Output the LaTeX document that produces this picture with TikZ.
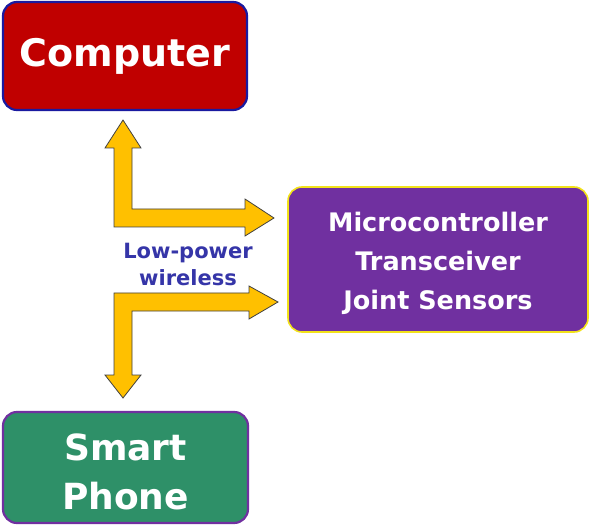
\documentclass[tikz,border=0pt]{standalone}
\usepackage{fontspec}
\setmainfont{DejaVu Sans}
\definecolor{cred}{HTML}{C00000}
\definecolor{cblue}{HTML}{1A1AA0}
\definecolor{cpurple}{HTML}{7030A0}
\definecolor{cyellow}{HTML}{F2E21A}
\definecolor{cgreen}{HTML}{2E9068}
\definecolor{cgold}{HTML}{FFC000}
\definecolor{ctext}{HTML}{3535A8}
\tikzset{
  box/.style={rounded corners=14pt, line width=2.2pt, inner sep=0pt, text=white, font=\bfseries, align=center},
  blockarrow/.style={fill=cgold, draw=black!75, line width=0.8pt, line join=miter},
}
\begin{document}
\begin{tikzpicture}[x=1pt,y=-1pt]
\useasboundingbox (0,0) rectangle (591,526);
% boxes
\node[box, fill=cred, draw=cblue, minimum width=244pt, minimum height=108pt] (comp) at (125,56) {};
\node[text=white, font=\bfseries\fontsize{38}{40}\selectfont] (comptxt) at (comp.center) {Computer};
\node[box, fill=cpurple, draw=cyellow, line width=1.6pt, minimum width=300pt, minimum height=145pt] (micro) at (438,259.5) {};
\node[text=white, align=center, font=\bfseries\fontsize{25.5}{39}\selectfont] (microtxt) at ([yshift=-4pt]micro.center) {Microcontroller\\Transceiver\\Joint Sensors};
\node[box, fill=cgreen, draw=cpurple, minimum width=245pt, minimum height=111pt] (phone) at (125.5,467.5) {};
\node[text=white, align=center, font=\bfseries\fontsize{36}{49}\selectfont] (phonetxt) at ([yshift=-4pt]phone.center) {Smart\\Phone};
% label
\node[text=ctext, font=\bfseries\fontsize{21}{27}\selectfont, align=center] (lbl) at (188,264) {Low-power\\wireless};
% upper block arrow (computer <-> microcontroller)
\draw[blockarrow] (123,120) -- (141,148) -- (132,148) -- (132,209) -- (245,209) -- (245,199) -- (274,218) -- (245,236) -- (245,227) -- (114,227) -- (114,148) -- (105,148) -- cycle;
% lower block arrow (phone <-> microcontroller)
\draw[blockarrow] (114,293) -- (249,293) -- (249,286) -- (278,302) -- (249,319) -- (249,311) -- (132,311) -- (132,375) -- (141,375) -- (123,398) -- (105,375) -- (114,375) -- cycle;
\end{tikzpicture}
\end{document}
